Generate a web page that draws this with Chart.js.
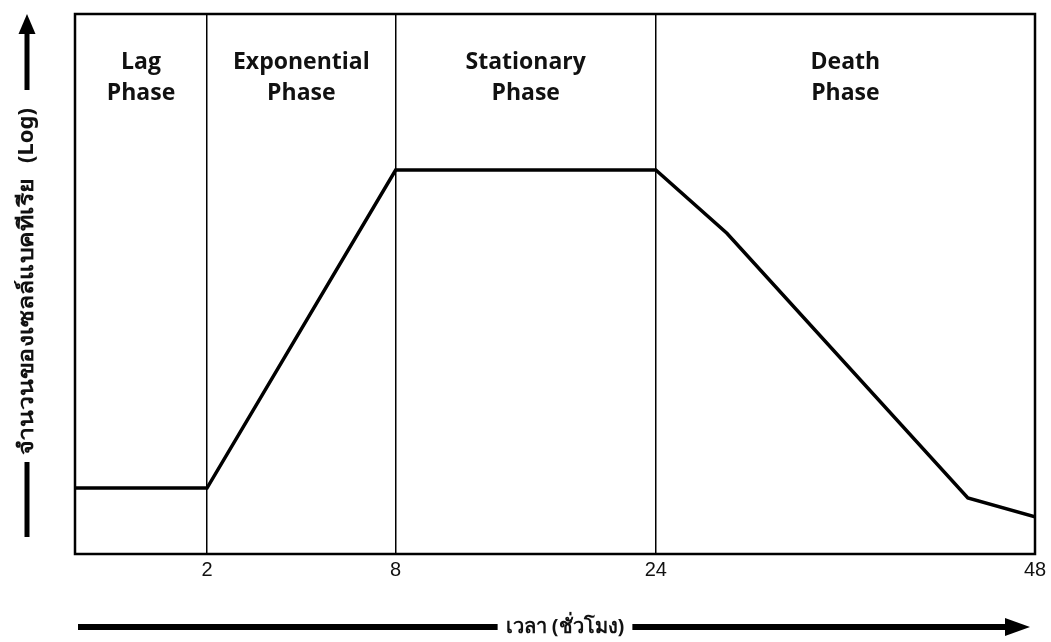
<!DOCTYPE html>
<html>
<head>
<meta charset="utf-8">
<script src="https://cdn.jsdelivr.net/npm/chart.js@4.4.1/dist/chart.umd.min.js"></script>
<style>
  html, body { margin: 0; padding: 0; background: #fff; }
  #wrap { width: 1051px; height: 642px; }
</style>
</head>
<body>
<div id="wrap"><canvas id="growthChart"></canvas></div>
<script>
// Growth curve of bacteria (schematic)
const hours = [0, 2, 8, 24, 28.5, 43.75, 48];
const cellCount = [12.2, 12.2, 71.1, 71.1, 59.4, 10.4, 6.9];
const tickHours = [0, 2, 8, 24, 48];
const phaseNames = [['Lag', 'Phase'], ['Exponential', 'Phase'], ['Stationary', 'Phase'], ['Death', 'Phase']];
const xTitle = ['เวลา ', '(ชั่วโมง)'];
const yTitle = ['จำนวนของเซลล์แบคทีเรีย', '(Log)'];

const THAI_FONT = '"Noto Sans", "DejaVu Sans", "Liberation Sans", sans-serif';

// x axis that is not linear: each phase gets its own share of the width
class StagedScale extends Chart.LinearScale {
    _toDecimal(value) {
        const b = this.options.breaks, s = this.options.shares;
        if (value <= b[0]) return s[0];
        for (let i = 1; i < b.length; i++) {
            if (value <= b[i]) {
                const t = (value - b[i - 1]) / (b[i] - b[i - 1]);
                return s[i - 1] + t * (s[i] - s[i - 1]);
            }
        }
        return s[s.length - 1];
    }
    getPixelForValue(value) {
        if (value === null || value === undefined) return NaN;
        return this.getPixelForDecimal(this._toDecimal(value));
    }
    getValueForPixel(pixel) {
        const d = this.getDecimalForPixel(pixel);
        const b = this.options.breaks, s = this.options.shares;
        for (let i = 1; i < s.length; i++) {
            if (d <= s[i]) {
                const t = (d - s[i - 1]) / (s[i] - s[i - 1]);
                return b[i - 1] + t * (b[i] - b[i - 1]);
            }
        }
        return b[b.length - 1];
    }
}
StagedScale.id = 'staged';
StagedScale.defaults = Chart.LinearScale.defaults;
Chart.register(StagedScale);

const decorations = {
    id: 'decorations',
    afterDatasetsDraw(chart) {
        const { ctx, chartArea: a, scales: { x } } = chart;
        ctx.save();

        // frame
        ctx.strokeStyle = '#000';
        ctx.lineWidth = 2.5;
        ctx.strokeRect(a.left, a.top, a.right - a.left, a.bottom - a.top);

        // phase names
        ctx.fillStyle = '#111';
        ctx.font = 'bold 23px "Open Sans", "Liberation Sans", sans-serif';
        ctx.textAlign = 'center';
        ctx.textBaseline = 'middle';
        for (let i = 0; i < phaseNames.length; i++) {
            const cx = (x.getPixelForValue(tickHours[i]) + x.getPixelForValue(tickHours[i + 1])) / 2;
            ctx.fillText(phaseNames[i][0], cx, 62);
            ctx.fillText(phaseNames[i][1], cx, 93);
        }

        // x title with arrow
        const ty = 627;
        ctx.font = '600 20px ' + THAI_FONT;
        const w1 = ctx.measureText(xTitle[0]).width;
        ctx.font = 'bold 20px ' + THAI_FONT;
        const w2 = ctx.measureText(xTitle[1]).width;
        const startX = 565 - (w1 + w2) / 2;
        ctx.textAlign = 'left';
        ctx.textBaseline = 'middle';
        ctx.font = '600 20px ' + THAI_FONT;
        ctx.fillText(xTitle[0], startX, ty);
        ctx.font = 'bold 20px ' + THAI_FONT;
        ctx.fillText(xTitle[1], startX + w1, ty);
        ctx.fillStyle = '#000';
        ctx.fillRect(78, ty - 3, startX - 8 - 78, 6);
        const rs = startX + w1 + w2 + 8;
        ctx.fillRect(rs, ty - 3, 1008 - rs, 6);
        ctx.beginPath();
        ctx.moveTo(1005, ty - 9);
        ctx.lineTo(1030, ty);
        ctx.lineTo(1005, ty + 9);
        ctx.closePath();
        ctx.fill();

        // y title with arrow (thai part is stretched along its length, as in the source)
        const yx = 27;
        ctx.save();
        ctx.translate(yx, 455);
        ctx.rotate(-Math.PI / 2);
        ctx.fillStyle = '#111';
        ctx.textAlign = 'left';
        ctx.textBaseline = 'middle';
        ctx.font = '600 21px ' + THAI_FONT;
        const wy = ctx.measureText(yTitle[0]).width;
        const stretch = 276 / wy;
        ctx.save();
        ctx.scale(stretch, 1);
        ctx.fillText(yTitle[0], 0, 0);
        ctx.restore();
        ctx.font = 'bold 22px ' + THAI_FONT;
        ctx.fillText(yTitle[1], 292, 0);
        ctx.restore();
        ctx.fillStyle = '#000';
        ctx.fillRect(yx - 2.5, 462, 5, 75);
        ctx.fillRect(yx - 2.5, 30, 5, 60);
        ctx.beginPath();
        ctx.moveTo(yx - 8.5, 34);
        ctx.lineTo(yx, 14);
        ctx.lineTo(yx + 8.5, 34);
        ctx.closePath();
        ctx.fill();

        ctx.restore();
    }
};

new Chart(document.getElementById('growthChart'), {
    type: 'line',
    data: {
        datasets: [{
            data: hours.map((h, i) => ({ x: h, y: cellCount[i] })),
            borderColor: '#000',
            borderWidth: 3.5,
            pointRadius: 0,
            tension: 0,
            fill: false
        }]
    },
    options: {
        responsive: true,
        maintainAspectRatio: false,
        animation: false,
        layout: { padding: { left: 75, right: 16, top: 14, bottom: 56 } },
        plugins: {
            legend: { display: false },
            tooltip: { enabled: false }
        },
        scales: {
            x: {
                type: 'staged',
                min: 0,
                max: 48,
                breaks: tickHours,
                shares: [0, 0.1375, 0.334, 0.605, 1],
                afterBuildTicks: (scale) => {
                    scale.ticks = tickHours.map(v => ({ value: v }));
                },
                ticks: {
                    autoSkip: false,
                    maxRotation: 0,
                    padding: 4,
                    color: '#111',
                    font: { family: '"Liberation Sans", Arial, sans-serif', size: 20 },
                    callback: (v) => (v === 0 ? '' : String(v))
                },
                grid: {
                    drawTicks: false,
                    lineWidth: 1.5,
                    color: (c) => ([2, 8, 24].includes(c.tick && c.tick.value) ? '#000' : 'rgba(0,0,0,0)')
                },
                border: { display: false }
            },
            y: {
                display: false,
                min: 0,
                max: 100
            }
        }
    },
    plugins: [decorations]
});
</script>
</body>
</html>
